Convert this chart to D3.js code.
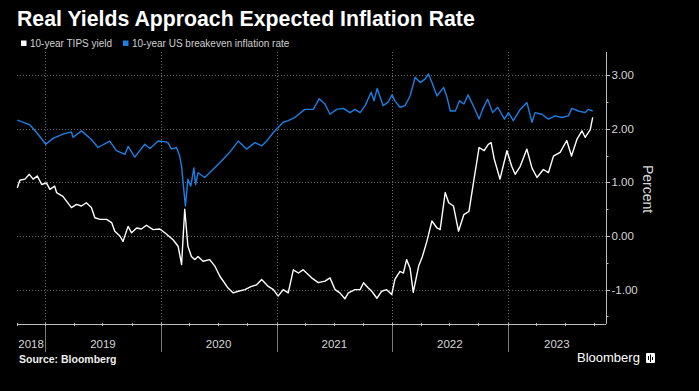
<!DOCTYPE html>
<html>
<head>
<meta charset="utf-8">
<script src="https://cdn.jsdelivr.net/npm/d3@7"></script>
<style>
html, body { margin: 0; padding: 0; background: #000; }
svg { display: block; font-family: "Liberation Sans", Arial, sans-serif; }
</style>
</head>
<body>
<svg id="chart" width="699" height="391"></svg>
<script>
// 10-year TIPS yield (white line)
var tipsDates = ["2018-10-05","2018-10-13","2018-10-29","2018-11-12","2018-11-24","2018-12-07","2018-12-21",
	"2019-01-05","2019-01-16","2019-01-31","2019-02-06","2019-02-26","2019-03-25","2019-04-10","2019-04-26",
	"2019-05-11","2019-05-27","2019-06-07","2019-06-23","2019-07-14","2019-07-30","2019-08-09","2019-08-25",
	"2019-09-04","2019-09-20","2019-10-01","2019-10-17","2019-11-01","2019-11-17","2019-12-08","2019-12-29",
	"2020-01-14","2020-02-09","2020-02-25","2020-03-07","2020-03-17","2020-03-27","2020-04-07","2020-04-18",
	"2020-04-28","2020-05-14","2020-06-04","2020-06-20","2020-07-06","2020-08-01","2020-08-17","2020-09-02",
	"2020-09-23","2020-10-14","2020-10-30","2020-11-15","2020-12-06","2020-12-22","2021-01-06","2021-01-22",
	"2021-02-07","2021-02-23","2021-03-11","2021-03-26","2021-04-06","2021-04-22","2021-05-13","2021-06-03",
	"2021-06-19","2021-07-05","2021-07-20","2021-08-05","2021-08-16","2021-09-06","2021-09-22","2021-10-03",
	"2021-10-18","2021-10-29","2021-11-14","2021-11-29","2021-12-15","2021-12-31","2022-01-10","2022-01-26",
	"2022-02-06","2022-02-16","2022-02-27","2022-03-09","2022-03-26","2022-04-07","2022-04-21","2022-05-07",
	"2022-05-23","2022-06-02","2022-06-18","2022-06-29","2022-07-14","2022-07-30","2022-08-16","2022-09-01",
	"2022-09-17","2022-10-03","2022-10-19","2022-11-01","2022-11-10","2022-11-20","2022-12-08","2022-12-30",
	"2023-01-14","2023-01-25","2023-02-10","2023-03-03","2023-03-19","2023-04-04","2023-04-24","2023-05-10",
	"2023-05-26","2023-06-16","2023-07-07","2023-07-22","2023-08-08","2023-08-24","2023-09-03","2023-09-19",
	"2023-09-27"];
var tipsValues = [0.90,1.04,1.06,1.15,1.06,1.12,0.96,
	0.99,0.87,0.93,0.81,0.74,0.53,0.59,0.56,
	0.62,0.53,0.34,0.31,0.31,0.25,0.09,0.00,
	-0.10,0.18,0.06,0.15,0.13,0.20,0.12,0.13,
	0.06,-0.07,-0.19,-0.53,0.50,-0.19,-0.38,-0.44,
	-0.38,-0.47,-0.44,-0.56,-0.75,-0.97,-1.06,-1.03,
	-1.00,-0.94,-0.91,-0.81,-0.94,-1.00,-1.12,-1.00,
	-1.06,-0.63,-0.69,-0.63,-0.69,-0.78,-0.87,-0.84,
	-0.78,-1.00,-1.06,-1.17,-1.06,-1.00,-1.00,-0.87,
	-0.97,-1.03,-1.16,-1.03,-1.00,-1.09,-0.81,-0.66,
	-0.69,-0.44,-0.60,-1.05,-0.56,-0.38,-0.10,0.28,
	0.15,0.12,0.81,0.62,0.56,0.09,0.40,0.46,
	1.06,1.65,1.59,1.71,1.74,1.43,1.06,1.59,
	1.30,1.15,1.30,1.62,1.27,1.09,1.24,1.18,
	1.49,1.56,1.78,1.49,1.80,1.96,1.84,1.98,
	2.21];

// 10-year US breakeven inflation rate (blue line)
var beDates = ["2018-10-05","2018-11-14","2018-12-05","2019-01-03","2019-01-26","2019-02-26","2019-03-25",
	"2019-03-30","2019-04-26","2019-05-27","2019-06-17","2019-07-24","2019-08-14","2019-09-10","2019-09-20",
	"2019-10-11","2019-11-12","2019-11-28","2019-12-24","2020-01-14","2020-01-24","2020-02-04","2020-02-20",
	"2020-03-01","2020-03-07","2020-03-12","2020-03-19","2020-03-27","2020-04-05","2020-04-15","2020-04-20",
	"2020-04-28","2020-05-19","2020-06-14","2020-07-11","2020-08-06","2020-09-02","2020-09-28","2020-10-25",
	"2020-11-15","2020-12-01","2020-12-22","2021-01-22","2021-02-07","2021-02-28","2021-03-31","2021-04-27",
	"2021-05-16","2021-06-03","2021-06-19","2021-07-10","2021-07-31","2021-08-21","2021-09-06","2021-09-22",
	"2021-10-08","2021-10-27","2021-11-05","2021-11-15","2021-12-04","2021-12-20","2022-01-01","2022-01-10",
	"2022-01-26","2022-02-11","2022-02-27","2022-03-15","2022-03-31","2022-04-16","2022-04-26","2022-05-07",
	"2022-05-23","2022-06-13","2022-06-24","2022-07-04","2022-07-20","2022-08-02","2022-08-16","2022-08-29",
	"2022-09-17","2022-10-03","2022-10-14","2022-10-30","2022-11-15","2022-12-01","2022-12-22","2023-01-04",
	"2023-01-19","2023-02-10","2023-03-03","2023-03-19","2023-03-29","2023-04-19","2023-05-10","2023-05-31",
	"2023-06-21","2023-07-12","2023-07-23","2023-08-13","2023-09-03","2023-09-13","2023-09-27"];
var beValues = [2.16,2.07,1.93,1.71,1.82,1.90,1.94,
	1.84,1.96,1.80,1.65,1.77,1.59,1.52,1.67,
	1.47,1.71,1.63,1.77,1.76,1.74,1.62,1.65,
	1.49,1.30,0.99,0.56,1.06,0.93,1.27,0.96,
	1.18,1.09,1.24,1.40,1.56,1.77,1.62,1.74,
	1.68,1.77,1.93,2.12,2.15,2.21,2.36,2.36,
	2.56,2.46,2.27,2.36,2.38,2.30,2.36,2.30,
	2.43,2.68,2.52,2.75,2.43,2.50,2.63,2.52,
	2.40,2.43,2.61,2.96,2.86,2.93,3.02,2.86,
	2.61,2.77,2.58,2.33,2.33,2.52,2.46,2.63,
	2.40,2.18,2.36,2.55,2.30,2.40,2.18,2.30,
	2.15,2.36,2.49,2.12,2.30,2.27,2.18,2.24,
	2.21,2.24,2.38,2.33,2.30,2.36,2.33];

var yTicks = [-1, 0, 1, 2, 3];
var yMinorTicks = [-1.5, -0.5, 0.5, 1.5, 2.5];
var years = [2018, 2019, 2020, 2021, 2022, 2023];
var seriesNames = ["10-year TIPS yield", "10-year US breakeven inflation rate"];
var seriesColors = ["#ffffff", "#1c7fe3"];

var parse = d3.timeParse("%Y-%m-%d");
var tips = tipsDates.map(function (d, i) { return { date: parse(d), value: tipsValues[i] }; });
var be = beDates.map(function (d, i) { return { date: parse(d), value: beValues[i] }; });

var margin = { top: 52, right: 93, bottom: 67, left: 17 },
	width = 699 - margin.left - margin.right,
	height = 391 - margin.top - margin.bottom;

var svg = d3.select("#chart");
svg.append("rect").attr("width", 699).attr("height", 391).attr("fill", "#000");

var g = svg.append("g").attr("transform", "translate(" + margin.left + "," + margin.top + ")");

var x = d3.scaleTime()
	.domain([parse("2018-10-04"), parse("2023-11-08")])
	.range([0, width]);
var y = d3.scaleLinear()
	.domain([-1.64, 3.43])
	.range([height, 0]);

// horizontal dotted gridlines
g.selectAll(".hgrid").data(yTicks).enter().append("line")
	.attr("x1", 0).attr("x2", width)
	.attr("y1", function (d) { return Math.round(y(d)) + 0.5; })
	.attr("y2", function (d) { return Math.round(y(d)) + 0.5; })
	.attr("stroke", "#6a6a6a").attr("stroke-dasharray", "1,2");

// year boundaries: dotted above axis, solid below
var yearStarts = years.slice(1).map(function (yr) { return new Date(yr, 0, 1); });
g.selectAll(".vgrid").data(yearStarts).enter().append("line")
	.attr("x1", function (d) { return Math.round(x(d)) + 0.5; })
	.attr("x2", function (d) { return Math.round(x(d)) + 0.5; })
	.attr("y1", 0).attr("y2", height)
	.attr("stroke", "#6a6a6a").attr("stroke-dasharray", "1,2");
g.selectAll(".vsep").data(yearStarts).enter().append("line")
	.attr("x1", function (d) { return Math.round(x(d)) + 0.5; })
	.attr("x2", function (d) { return Math.round(x(d)) + 0.5; })
	.attr("y1", height).attr("y2", height + 28)
	.attr("stroke", "#7a7a7a");

// bottom axis line with quarter ticks
g.append("line").attr("x1", 0).attr("x2", width)
	.attr("y1", height + 0.5).attr("y2", height + 0.5).attr("stroke", "#bdbdbd");
var quarters = d3.timeMonth.every(3).range(x.domain()[0], x.domain()[1]);
g.selectAll(".qtick").data(quarters).enter().append("line")
	.attr("x1", function (d) { return Math.round(x(d)) + 0.5; })
	.attr("x2", function (d) { return Math.round(x(d)) + 0.5; })
	.attr("y1", height - 1).attr("y2", height + 2)
	.attr("stroke", "#bdbdbd");
g.append("line").attr("x1", 0.5).attr("x2", 0.5).attr("y1", height - 1).attr("y2", height + 2).attr("stroke", "#bdbdbd");

// year labels, centred in each visible year
g.selectAll(".ylab").data(years).enter().append("text")
	.attr("x", function (yr) {
		var a = Math.max(x(new Date(yr, 0, 1)), 0);
		var b = Math.min(x(new Date(yr + 1, 0, 1)), width);
		return (a + b) / 2;
	})
	.attr("y", height + 24)
	.attr("text-anchor", "middle")
	.attr("fill", "#d6d6d6").attr("font-size", "11.5px")
	.text(function (d) { return d; });

// right axis
var yAxis = g.append("g").attr("transform", "translate(" + width + ",0)");
yAxis.append("line").attr("x1", 0.5).attr("x2", 0.5).attr("y1", 0).attr("y2", height).attr("stroke", "#bdbdbd");
yAxis.selectAll(".maj").data(yTicks).enter().append("line")
	.attr("x1", 0).attr("x2", 4)
	.attr("y1", function (d) { return Math.round(y(d)) + 0.5; })
	.attr("y2", function (d) { return Math.round(y(d)) + 0.5; })
	.attr("stroke", "#bdbdbd");
yAxis.selectAll(".min").data(yMinorTicks).enter().append("line")
	.attr("x1", 0).attr("x2", 2.5)
	.attr("y1", function (d) { return Math.round(y(d)) + 0.5; })
	.attr("y2", function (d) { return Math.round(y(d)) + 0.5; })
	.attr("stroke", "#bdbdbd");
yAxis.selectAll(".lab").data(yTicks).enter().append("text")
	.attr("x", 5.5)
	.attr("y", function (d) { return y(d) + 4; })
	.attr("fill", "#d6d6d6").attr("font-size", "11.5px")
	.text(function (d) { return d3.format(".2f")(d).replace("−", "-"); });

svg.append("text")
	.attr("transform", "translate(643,189) rotate(90)")
	.attr("text-anchor", "middle")
	.attr("fill", "#d6d6d6").attr("font-size", "14px")
	.text("Percent");

// lines
var line = d3.line()
	.x(function (d) { return x(d.date); })
	.y(function (d) { return y(d.value); });
g.append("path").datum(be)
	.attr("fill", "none").attr("stroke", seriesColors[1]).attr("stroke-width", 1.4)
	.attr("stroke-linejoin", "round").attr("d", line);
g.append("path").datum(tips)
	.attr("fill", "none").attr("stroke", seriesColors[0]).attr("stroke-width", 1.4)
	.attr("stroke-linejoin", "round").attr("d", line);

// title
var title = svg.append("text")
	.attr("x", 17).attr("y", 26)
	.attr("fill", "#fff").attr("font-weight", "bold").attr("font-size", "20px")
	.text("Real Yields Approach Expected Inflation Rate");
var tl = title.node().getComputedTextLength();
title.attr("font-size", (20 * 458 / tl) + "px");

// legend
var lx = [21, 123];
seriesNames.forEach(function (name, i) {
	svg.append("rect").attr("x", lx[i]).attr("y", 40.5).attr("width", 5.5).attr("height", 5.5)
		.attr("fill", seriesColors[i]);
	svg.append("text").attr("x", lx[i] + 9).attr("y", 46.5)
		.attr("fill", "#cfcfcf").attr("font-size", "10px").text(name);
});

// footer
svg.append("text").attr("x", 19).attr("y", 363)
	.attr("fill", "#eee").attr("font-weight", "bold").attr("font-size", "10.5px")
	.text("Source: Bloomberg");
svg.append("text").attr("x", 577).attr("y", 362)
	.attr("fill", "#fff").attr("font-size", "13px").attr("font-weight", "500")
	.text("Bloomberg");
var logo = svg.append("g").attr("transform", "translate(646,353)");
logo.append("rect").attr("width", 9).attr("height", 10).attr("rx", 1).attr("fill", "#fff");
[[2.5, 3, 7], [4.5, 1.5, 9], [6.5, 4, 7]].forEach(function (b) {
	logo.append("line").attr("x1", b[0]).attr("x2", b[0]).attr("y1", b[1]).attr("y2", b[2])
		.attr("stroke", "#000").attr("stroke-width", 1);
});
</script>
</body>
</html>
